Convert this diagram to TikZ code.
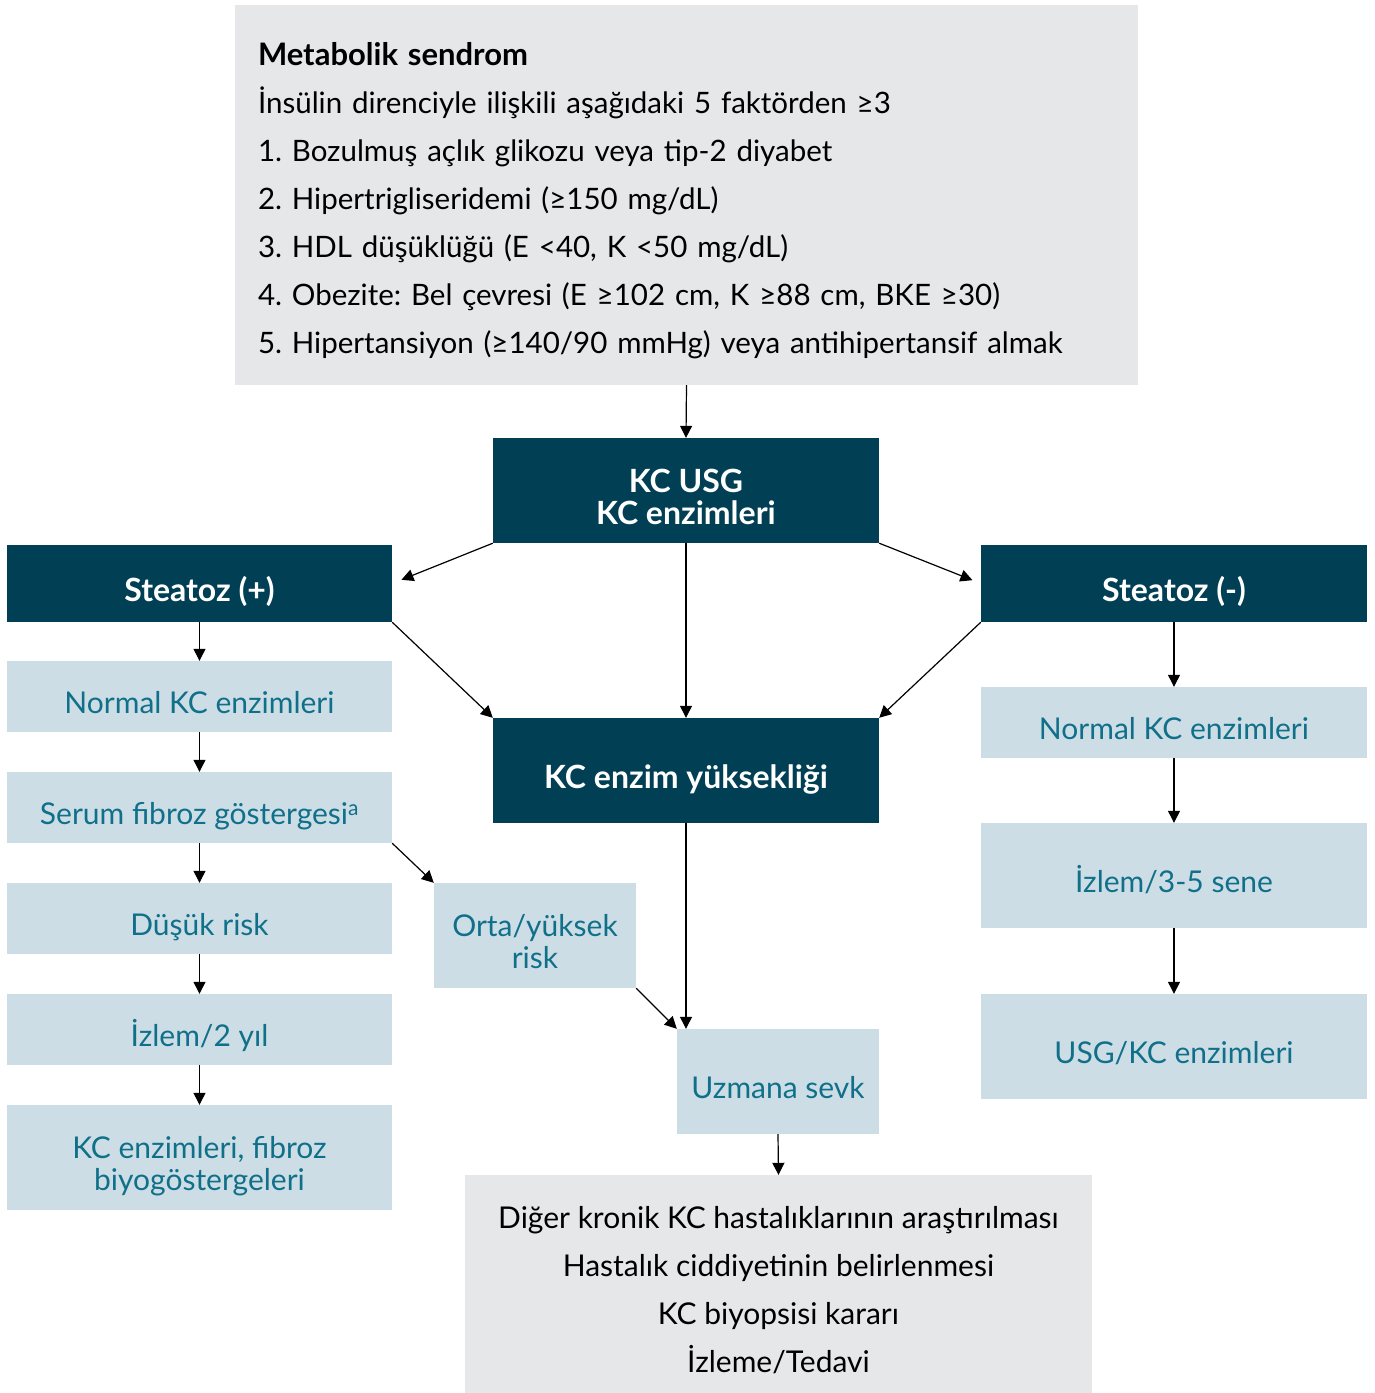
\documentclass[tikz,border=0pt]{standalone}
\usepackage{fontspec}
\setmainfont{Lato}
\frenchspacing
\usetikzlibrary{arrows.meta}
\definecolor{navy}{RGB}{0,63,84}
\definecolor{paleblue}{RGB}{205,221,229}
\definecolor{palegray}{RGB}{230,231,233}
\definecolor{tealtext}{RGB}{16,112,138}
\newcommand\upstrut[1]{\rule{0pt}{\dimexpr0.97em+#1\relax}}
\tikzset{
  lowend/.style={execute at end node={\rule[-0.25em]{0pt}{0.25em}}},
  lowtext/.style={lowend, execute at begin node={\upstrut{#1}}},
  darkbox/.style={fill=navy, text=white, font=\fontsize{32}{32}\selectfont\bfseries, align=center, inner sep=0pt, lowend},
  lightbox/.style={fill=paleblue, text=tealtext, font=\fontsize{30}{32}\selectfont, align=center, inner sep=0pt, lowend},
  graybox/.style={fill=palegray, text=black, inner sep=0pt},
}
\begin{document}
\begin{tikzpicture}[x=1pt, y=-1pt, line join=round, >={Triangle[length=12pt,width=12pt]}]
				\useasboundingbox (0,0) rectangle (1375,1393);
				% boxes
				\node[graybox, minimum width=903pt, minimum height=380pt, text width=857pt, align=left, font=\fontsize{29.5}{48}\selectfont, lowtext=8pt] (meta) at (686.5,195)
					{{\fontsize{31}{48}\selectfont\textbf{Metabolik sendrom}}\\
					İnsülin direnciyle ilişkili aşağıdaki 5 faktörden ≥3\\
					1. Bozulmuş açlık glikozu veya tip-2 diyabet\\
					2. Hipertrigliseridemi (≥150 mg/dL)\\
					3. HDL düşüklüğü (E <40, K <50 mg/dL)\\
					4. Obezite: Bel çevresi (E ≥102 cm, K ≥88 cm, BKE ≥30)\\
					5. Hipertansiyon (≥140/90 mmHg) veya antihipertansif almak};
				\node[darkbox, minimum width=386pt, minimum height=105pt] (usg) at (686,490.5) {\upstrut{12pt}KC USG\\KC enzimleri};
				\node[darkbox, lowtext=12pt, minimum width=385pt, minimum height=77pt] (stp) at (199.5,583.5) {Steatoz (+)};
				\node[darkbox, lowtext=12pt, minimum width=386pt, minimum height=77pt] (stn) at (1174,583.5) {Steatoz (-)};
				\node[darkbox, lowtext=12pt, minimum width=386pt, minimum height=105pt] (eny) at (686,770.5) {KC enzim yüksekliği};
				\node[lightbox, lowtext=12pt, minimum width=385pt, minimum height=71pt] (nkl) at (199.5,696.5) {Normal KC enzimleri};
				\node[lightbox, lowtext=12pt, minimum width=385pt, minimum height=71pt] (sfg) at (199.5,807.5) {Serum fibroz göstergesi\textsuperscript{a}};
				\node[lightbox, lowtext=12pt, minimum width=385pt, minimum height=71pt] (dr) at (199.5,918.5) {Düşük risk};
				\node[lightbox, lowtext=12pt, minimum width=385pt, minimum height=71pt] (iz2) at (199.5,1029.5) {İzlem/2 yıl};
				\node[lightbox, minimum width=385pt, minimum height=105pt] (kcf) at (199.5,1157.5) {\upstrut{12pt}KC enzimleri, fibroz\\biyogöstergeleri};
				\node[lightbox, minimum width=202pt, minimum height=105pt] (oyr) at (535,935.5) {\upstrut{12pt}Orta/yüksek\\risk};
				\node[lightbox, lowtext=12pt, minimum width=202pt, minimum height=105pt] (uzm) at (778,1081.5) {Uzmana sevk};
				\node[lightbox, lowtext=12pt, minimum width=386pt, minimum height=71pt] (nkr) at (1174,722.5) {Normal KC enzimleri};
				\node[lightbox, lowtext=12pt, minimum width=386pt, minimum height=105pt] (iz35) at (1174,875.5) {İzlem/3-5 sene};
				\node[lightbox, lowtext=12pt, minimum width=386pt, minimum height=105pt] (usgkc) at (1174,1046.5) {USG/KC enzimleri};
				\node[graybox, lowend, minimum width=627pt, minimum height=218pt, align=center, font=\fontsize{30}{48}\selectfont] (diger) at (778.5,1284)
					{\upstrut{12pt}Diğer kronik KC hastalıklarının araştırılması\\
					Hastalık ciddiyetinin belirlenmesi\\
					KC biyopsisi kararı\\
					İzleme/Tedavi};
				% arrows
				\begin{scope}[line width=1.2pt]
				\draw[->] (meta.south)--(usg.north);
				\draw[->, shorten >=10pt] (usg.south west)--(stp.east);
				\draw[->, shorten >=9pt] (usg.south east)--(stn.west);
				\draw[->] (usg.south)--(eny.north);
				\draw[->] (stp.south east)--(eny.north west);
				\draw[->] (stn.south west)--(eny.north east);
				\foreach \a/\b in {stp/nkl,nkl/sfg,sfg/dr,dr/iz2,iz2/kcf,stn/nkr,nkr/iz35,iz35/usgkc,uzm/diger}
					\draw[->] (\a.south)--(\b.north);
				\draw[->] (sfg.south east)--(oyr.north west);
				\draw[->] (oyr.south east)--(uzm.north west);
				\draw[->] (eny.south)--(eny.south |- uzm.north);
				\end{scope}
		\end{tikzpicture}
\end{document}
